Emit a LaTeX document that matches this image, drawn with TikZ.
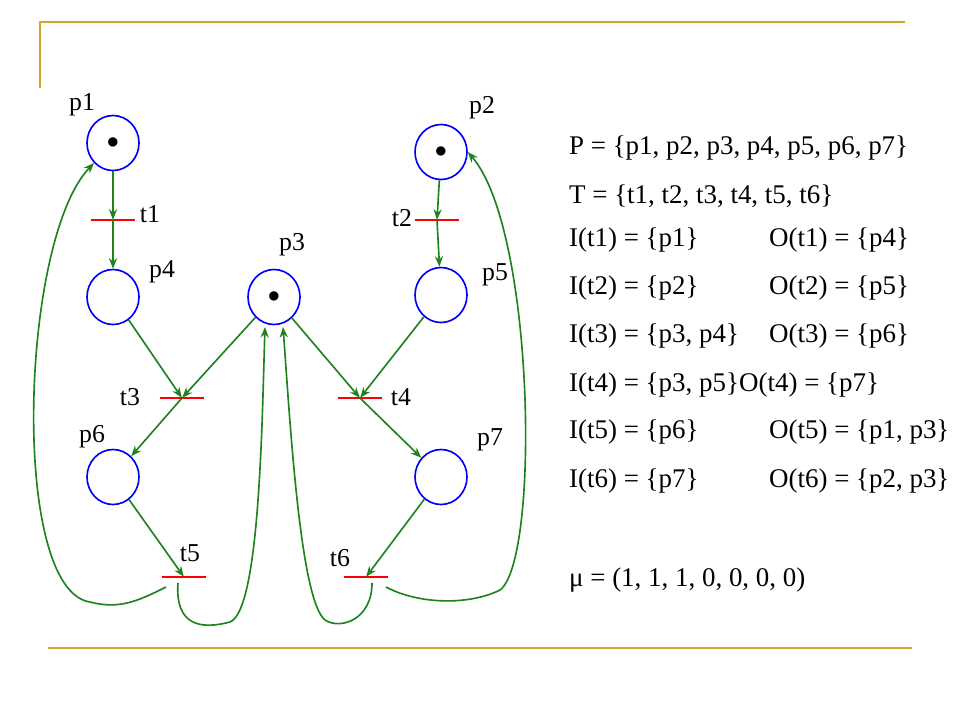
\documentclass[tikz,border=0pt]{standalone}
\usepackage{fontspec}
\setmainfont{Liberation Serif}
\usetikzlibrary{positioning, arrows.meta, shapes.geometric}
\definecolor{gold}{RGB}{204,170,40}
\definecolor{arcgreen}{RGB}{30,130,30}
\tikzset{
  place/.style={draw=blue, line width=1.4pt, ellipse, minimum width=52*0.03cm, minimum height=55*0.03cm, inner sep=0pt},
  trans/.style={draw=none, minimum width=44*0.03cm, minimum height=0pt, inner sep=0pt},
  arc/.style={arcgreen, line width=1.4pt, -{Stealth[length=9pt, width=7pt]}},
  lbl/.style={font=\fontsize{22}{22}\selectfont},
  txt/.style={font=\fontsize{23}{23}\selectfont, anchor=west}
}
\begin{document}
\begin{tikzpicture}[x=0.03cm, y=-0.03cm]
    \useasboundingbox (0,0) rectangle (960,720);
    % frame lines
    \draw[gold, line width=1.4pt] (40,88) -- (40,22) -- (905,22);
    \draw[gold, line width=1.4pt] (48,648) -- (912,648);

    % places
    \node (p1) [place] at (113,143) {\huge$\bullet$};
    \node (p2) [place] at (441,152) {\huge$\bullet$};
    \node (p3) [place] at (274,297) {\huge$\bullet$};
    \node (p4) [place] at (113,297) {};
    \node (p5) [place] at (441,295) {};
    \node (p6) [place] at (113,477) {};
    \node (p7) [place] at (441,477) {};
    \node [lbl] at (82,105) {p1};
    \node [lbl] at (482,108) {p2};
    \node [lbl] at (292,245) {p3};
    \node [lbl] at (162,272) {p4};
    \node [lbl] at (495,275) {p5};
    \node [lbl] at (92,437) {p6};
    \node [lbl] at (490,440) {p7};

    % transitions
    \node (t1) [trans] at (113,220) {};
    \node (t2) [trans] at (437,220) {};
    \node (t3) [trans] at (182,398) {};
    \node (t4) [trans] at (360,398) {};
    \node (t5) [trans] at (184,577) {};
    \node (t6) [trans] at (366,577) {};
    \foreach \tr in {t1,t2,t3,t4,t5,t6}
        \draw[red, line width=1.4pt] (\tr.west) -- (\tr.east);
    \node [lbl] at (150,214) {t1};
    \node [lbl] at (402,218) {t2};
    \node [lbl] at (130,397) {t3};
    \node [lbl] at (401,397) {t4};
    \node [lbl] at (190,553) {t5};
    \node [lbl] at (340,558) {t6};

    % arcs
    \draw [arc] (p1) -- (t1);
    \draw [arc] (t1) -- (p4);
    \draw [arc] (p2) -- (t2);
    \draw [arc] (t2) -- (p5);
    \draw [arc] (p4) -- (t3);
    \draw [arc] (p3) -- (t3);
    \draw [arc] (p3) -- (t4);
    \draw [arc] (p5) -- (t4);
    \draw [arc] (t3) -- (p6);
    \draw [arc] (t4) -- (p7);
    \draw [arc] (p6) -- (t5);
    \draw [arc] (p7) -- (t6);
    \draw [arc] ([xshift=-18*0.03cm, yshift=-10*0.03cm]t5.center) .. controls (140,600) and (120,610) .. (90,602)
        .. controls (10,590) and (20,240) .. (p1.south west);
    \draw [arc] ([xshift=-6*0.03cm, yshift=-6*0.03cm]t5.center) .. controls (175,625) and (200,630) .. (230,622)
        .. controls (260,610) and (262,420) .. (265,327);
    \draw [arc] ([xshift=6*0.03cm, yshift=-6*0.03cm]t6.center) .. controls (372,620) and (340,630) .. (325,620)
        .. controls (300,600) and (290,420) .. (283,327);
    \draw [arc] ([xshift=20*0.03cm, yshift=-10*0.03cm]t6.center) .. controls (420,605) and (470,605) .. (500,590)
        .. controls (540,560) and (535,230) .. (p2.east);

    % definitions
    \node [txt] at (565,148) {P = \{p1, p2, p3, p4, p5, p6, p7\}};
    \node [txt] at (565,196) {T = \{t1, t2, t3, t4, t5, t6\}};
    \node [txt] at (565,240) {I(t1) = \{p1\}};
    \node [txt] at (765,240) {O(t1) = \{p4\}};
    \node [txt] at (565,288) {I(t2) = \{p2\}};
    \node [txt] at (765,288) {O(t2) = \{p5\}};
    \node [txt] at (565,336) {I(t3) = \{p3, p4\}};
    \node [txt] at (765,336) {O(t3) = \{p6\}};
    \node [txt] at (565,385) {I(t4) = \{p3, p5\}};
    \node [txt] at (735,385) {O(t4) = \{p7\}};
    \node [txt] at (565,432) {I(t5) = \{p6\}};
    \node [txt] at (765,432) {O(t5) = \{p1, p3\}};
    \node [txt] at (565,481) {I(t6) = \{p7\}};
    \node [txt] at (765,481) {O(t6) = \{p2, p3\}};
    \node [txt] at (565,580) {μ = (1, 1, 1, 0, 0, 0, 0)};
\end{tikzpicture}
\end{document}
